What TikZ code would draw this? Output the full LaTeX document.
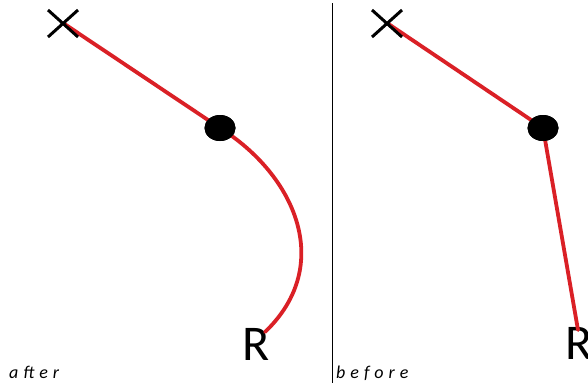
\documentclass[tikz,border=0pt]{standalone}
\usepackage{fontspec}
\usetikzlibrary{shapes.geometric}
\setmainfont{Carlito}
\newfontfamily\labfont[LetterSpace=28]{Carlito}
\definecolor{stroke}{RGB}{218,32,38}
\begin{document}
\begin{tikzpicture}[x=1pt,y=-1pt,
  redline/.style={draw=stroke,line width=3.8pt,line cap=round},
  crossmark/.style={draw=black,line width=3pt},
  blob/.style={fill=black,ellipse,minimum width=31pt,minimum height=26pt,inner sep=0pt},
  rlabel/.style={font=\fontsize{50}{50}\selectfont,inner sep=0pt,anchor=north west},
  caption/.style={font=\labfont\itshape\fontsize{18}{18}\selectfont,inner sep=0pt,anchor=base west}]
\useasboundingbox (0,0) rectangle (588,386);
\clip (0,0) rectangle (588,386);
% after panel
\coordinate (xa) at (63,23);
\node[blob] (da) at (220,128) {};
\node[rlabel] (ra) at (242,328) {R};
\coordinate (rat) at (265,332);
\draw[redline] (xa) -- (da.center);
\draw[redline] (da.center) .. controls (295,175) and (335,265) .. (rat);
\node[blob] at (220,128) {};
\draw[crossmark] (48,10) -- (78,37) (78,10) -- (48,37);
\node[caption] (la) at (9,378) {after};
% divider
\coordinate (v1) at (332,3);
\coordinate (v2) at (332,383);
\draw[line width=1pt] (v1) -- (v2);
% before panel
\coordinate (xb) at (387,23);
\node[blob] (db) at (543,128) {};
\node[rlabel] (rb) at (565,327) {R};
\coordinate (rbt) at (578,330);
\draw[redline] (xb) -- (db.center);
\draw[redline] (db.center) -- (rbt);
\node[blob] at (543,128) {};
\draw[crossmark] (372,10) -- (402,37) (402,10) -- (372,37);
\node[caption] (lb) at (336,378) {before};
\end{tikzpicture}
\end{document}
